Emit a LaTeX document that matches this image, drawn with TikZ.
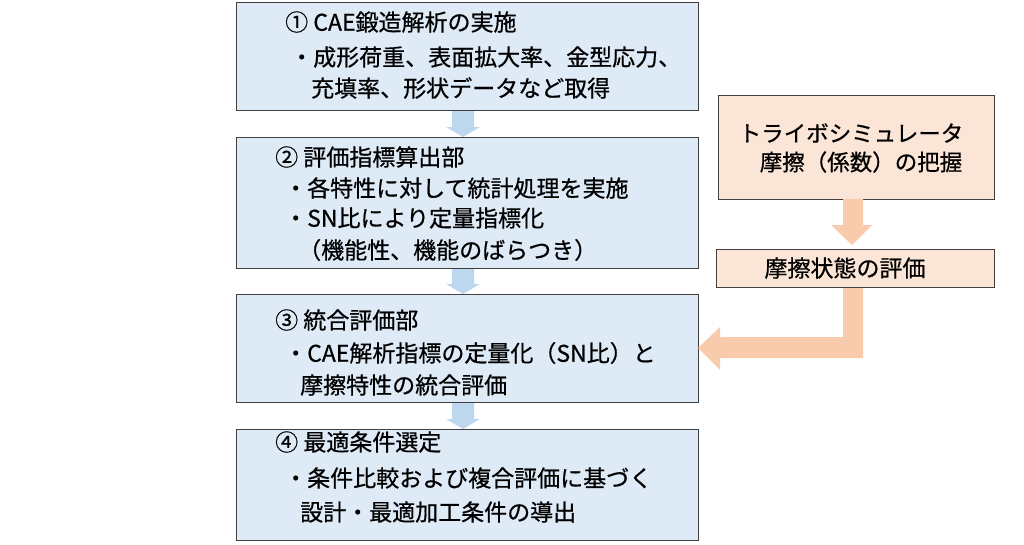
\documentclass[tikz,border=0pt]{standalone}
\usepackage{fontspec}
\setmainfont{Noto Sans CJK JP}[FakeBold=0.6]
\begin{document}
\begin{tikzpicture}[x=1pt,y=-1pt,
 lb/.style={draw=black!75,line width=1.2pt,fill=blueF},
 rb/.style={draw=black!75,line width=1.2pt,fill=orangeF},
 t/.style={font=\fontsize{23}{27}\selectfont,anchor=west,inner sep=0pt}]
\definecolor{blueF}{HTML}{DEEAF6}
\definecolor{orangeF}{HTML}{FBE5D6}
\definecolor{blueA}{HTML}{BDD7EE}
\definecolor{orangeA}{HTML}{F8CBAD}
\useasboundingbox (0,0) rectangle (1024,544);
% blue arrows
\foreach \a/\b in {110/137,268/294,402/429}{
 \fill[blueA] (452,\a) -- (474,\a) -- (474,\b-10) -- (480,\b-10) -- (463,\b) -- (446,\b-10) -- (452,\b-10) -- cycle;}
% boxes
\node[lb,minimum width=462,minimum height=108,anchor=north west] (b1) at (236,2) {};
\node[lb,minimum width=462,minimum height=131,anchor=north west] (b2) at (236,137) {};
\node[lb,minimum width=462,minimum height=108,anchor=north west] (b3) at (236,294) {};
\node[lb,minimum width=462,minimum height=111,anchor=north west] (b4) at (236,429) {};
\node[rb,minimum width=276,minimum height=104,anchor=north west] (r1) at (718,95) {};
\node[rb,minimum width=278,minimum height=38,anchor=north west] (r2) at (716,249) {};
% orange arrows
\fill[orangeA] (843,199) -- (863,199) -- (863,225) -- (872,225) -- (852,245) -- (831,225) -- (843,225) -- cycle;
\fill[orangeA] (843,288) -- (863,288) -- (863,358) -- (720,358) -- (720,370) -- (698,348) -- (720,327) -- (720,337) -- (843,337) -- cycle;
% texts
\node[t] (t11) at (285,22) {① CAE鍛造解析の実施};
\node[t] (t12) at (290,57) {・成形荷重、表面拡大率、金型応力、};
\node[t] (t13) at (311,88) {充填率、形状データなど取得};
\node[t] (t21) at (275,157) {② 評価指標算出部};
\node[t] (t22) at (284,188) {・各特性に対して統計処理を実施};
\node[t] (t23) at (284,218) {・SN比により定量指標化};
\node[t] (t24) at (298,250) {（機能性、機能のばらつき）};
\node[t] (t31) at (275,320) {③ 統合評価部};
\node[t] (t32) at (284,353) {・CAE解析指標の定量化（SN比）と};
\node[t] (t33) at (300,385) {摩擦特性の統合評価};
\node[t] (t41) at (275,442) {④ 最適条件選定};
\node[t] (t42) at (284,478) {・条件比較および複合評価に基づく};
\node[t] (t43) at (300,512) {設計・最適加工条件の導出};
\node[t,font=\fontsize{22.5}{26}\selectfont,anchor=center] (t51) at (851,133) {トライボシミュレータ};
\node[t,font=\fontsize{22.5}{26}\selectfont,anchor=center] (t52) at (861,162) {摩擦（係数）の把握};
\node[t,font=\fontsize{23}{26}\selectfont,anchor=center] (t6) at (845,268) {摩擦状態の評価};
\end{tikzpicture}
\end{document}
